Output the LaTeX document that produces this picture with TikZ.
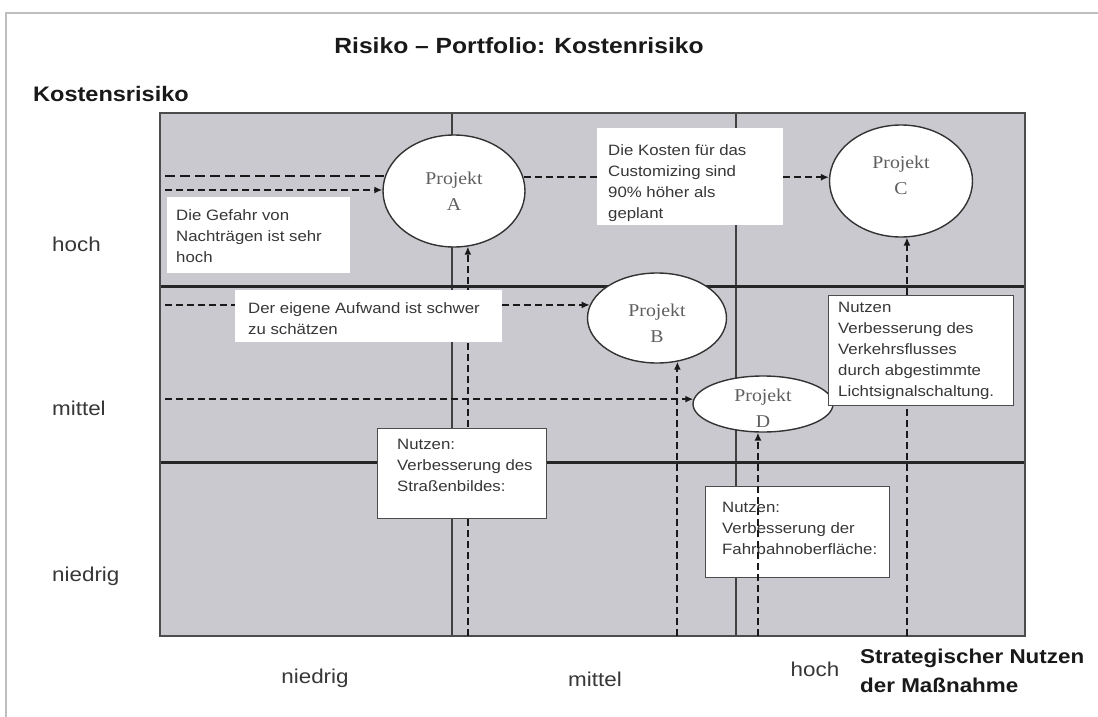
\documentclass[tikz,border=0pt]{standalone}
\usepackage{fontspec}
\setmainfont[FakeStretch=1.12]{Liberation Sans}
\newfontfamily\projfont[FakeStretch=1.1]{Liberation Serif}
\usetikzlibrary{arrows.meta,shapes.geometric,calc}
\pgfdeclarelayer{back}
\pgfdeclarelayer{front}
\pgfsetlayers{back,main,front}
\definecolor{cellfill}{RGB}{201,201,207}
\definecolor{framecol}{RGB}{190,190,190}
\definecolor{inkgray}{RGB}{55,55,55}
\definecolor{projgray}{RGB}{95,95,95}
\begin{document}
\begin{tikzpicture}[x=1pt,y=-1pt,
  proj/.style={ellipse, draw=black!80, line width=1.4pt, fill=white, inner sep=0pt},
  projlabel/.style={align=center, inner sep=0pt, font=\projfont\fontsize{18}{26}\selectfont, text=projgray},
  notebox/.style={rectangle, fill=white, inner sep=0pt, anchor=north west},
  framedbox/.style={notebox, draw=black!70, line width=1.3pt},
  notetext/.style={anchor=north west, inner sep=0pt, align=left, font=\fontsize{15}{21}\selectfont, text=inkgray},
  dl/.style={dash pattern=on 7pt off 4pt, line width=2pt, draw=black!90},
  dla/.style={dl, -{Latex[length=8pt,width=7pt]}},
  rowlab/.style={inner sep=0pt, font=\fontsize{20}{24}\selectfont, text=inkgray},
  boldlab/.style={inner sep=0pt, font=\fontsize{20}{24}\selectfont\bfseries, text=black!90},
  gridline/.style={draw=black!75, line width=1.5pt},
  midline/.style={draw=black!85, line width=3pt},
  outerline/.style={draw=black!70, line width=2pt}
]
\useasboundingbox (0,0) rectangle (1098,717);

% ---------- background grid ----------
\begin{pgfonlayer}{back}
  \fill[white] (0,0) rectangle (1098,717);
  \draw[framecol, line width=1.2pt] (6,717) -- (6,13) -- (1098,13);
  \fill[cellfill] (160,113) rectangle (1025,636);
  \draw[gridline] (452,113) -- (452,636);
  \draw[gridline] (736,113) -- (736,636);
  \draw[midline] (160,286) -- (1025,286);
  \draw[midline] (160,462) -- (1025,462);
  \draw[outerline] (160,113) rectangle (1025,636);
\end{pgfonlayer}

% ---------- labels ----------
\node[boldlab, font=\fontsize{22}{26}\selectfont\bfseries, anchor=base] (title) at (519,54) {Risiko – Portfolio: Kostenrisiko};
\node[boldlab, font=\fontsize{21}{25}\selectfont\bfseries, anchor=base west] (yax) at (33,101) {Kostensrisiko};
\node[rowlab, anchor=base west] (rh) at (52,251) {hoch};
\node[rowlab, anchor=base west] (rm) at (52,415) {mittel};
\node[rowlab, anchor=base west] (rn) at (52,581) {niedrig};
\node[rowlab, anchor=base] (cn) at (315,683) {niedrig};
\node[rowlab, anchor=base] (cm) at (595,686) {mittel};
\node[rowlab, anchor=base] (ch) at (815,676) {hoch};
\node[boldlab, anchor=base west] (xax1) at (860,663) {Strategischer Nutzen};
\node[boldlab, anchor=base west] (xax2) at (860,692) {der Maßnahme};

% ---------- nodes in front ----------
\begin{pgfonlayer}{front}
  \node[proj, minimum width=142, minimum height=112,
        label={[projlabel]center:Projekt\\A}] (A) at (454,191) {};
  \node[proj, minimum width=143, minimum height=112,
        label={[projlabel, yshift=6pt]center:Projekt\\C}] (C) at (901,181) {};
  \node[proj, minimum width=139, minimum height=90,
        label={[projlabel, yshift=-5pt]center:Projekt\\B}] (B) at (657,318) {};
  \node[proj, minimum width=140, minimum height=56,
        label={[projlabel, yshift=-4pt]center:Projekt\\D}] (D) at (763,404) {};

  \node[notebox, minimum width=183, minimum height=76] (g) at (167,197) {};
  \node[notetext] (gt) at (176,209) {Die Gefahr von\\Nachträgen ist sehr\\hoch};
  \node[notebox, minimum width=186, minimum height=97] (k) at (597,128) {};
  \node[notetext] (kt) at (608,144) {Die Kosten für das\\Customizing sind\\90\% höher als\\geplant};
  \node[notebox, minimum width=267, minimum height=52] (f) at (235,290) {};
  \node[notetext] (ft) at (248,302) {Der eigene Aufwand ist schwer\\zu schätzen};
  \node[framedbox, minimum width=169, minimum height=90] (s) at (377,428) {};
  \node[notetext] (st) at (397,439) {Nutzen:\\Verbesserung des\\Straßenbildes:};
  \node[framedbox, minimum width=185, minimum height=110] (v) at (828,295) {};
  \node[notetext] (vt) at (838,302) {Nutzen\\Verbesserung des\\Verkehrsflusses\\durch abgestimmte\\Lichtsignalschaltung.};
\end{pgfonlayer}

% ---------- box below the D arrow ----------
\node[framedbox, minimum width=184, minimum height=91] (fb) at (705,486) {};
\node[notetext] (fbt) at (722,502) {Nutzen:\\Verbesserung der\\Fahrbahnoberfläche:};

% ---------- connectors ----------
\coordinate (sA1) at (165,176);
\coordinate (sA2) at (165,190);
\coordinate (sB) at (165,305);
\coordinate (sD) at (165,399);
\coordinate (bot) at (0,636);

\draw[dl, dash pattern=on 10pt off 5pt] (sA1) -- (sA1 -| A.169);
\draw[dla] (sA2) -- (sA2 -| A.west);
\draw[dl] (A.11) -- (A.11 -| k.west);
\draw[dla] (C.177 -| k.east) -- (C.177);
\draw[dl] (sB) -- (sB -| f.west);
\draw[dla] (B.169 -| f.east) -- (B.169);
\draw[dla] (sD |- D.176) -- (D.176);
\draw[dla] (A.284 |- bot) -- (A.284);
\draw[dla] (B.295 |- bot) -- (B.295);
\draw[dla] (D.260 |- bot) -- (D.260);
\draw[dla] (C.276 |- bot) -- (C.276);
\end{tikzpicture}
\end{document}
